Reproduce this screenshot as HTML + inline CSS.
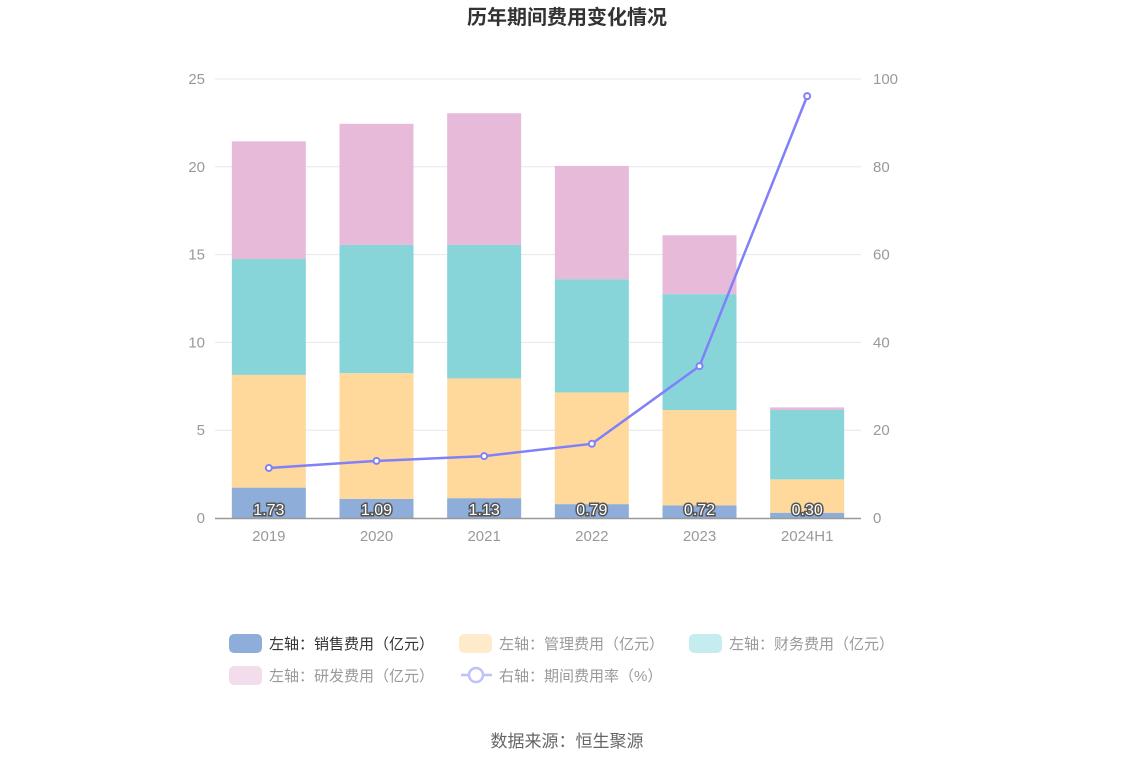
<!DOCTYPE html>
<html><head><meta charset="utf-8"><style>
body{margin:0;background:#fff;font-family:"Liberation Sans","Noto Sans CJK SC",sans-serif;}
svg text{font-family:"Liberation Sans","Noto Sans CJK SC",sans-serif;}
</style></head><body>
<svg id="c" width="1134" height="766" xmlns="http://www.w3.org/2000/svg">
<text x="567" y="24" text-anchor="middle" font-size="20" font-weight="bold" fill="#333">历年期间费用变化情况</text>
<g id="grid"></g><g id="bars"></g><g id="line"></g><g id="axes"></g>
<g id="legend" font-size="15"></g>
<text x="567" y="747" text-anchor="middle" font-size="17" fill="#666">数据来源：恒生聚源</text>
</svg>
<script>
const categories=["2019","2020","2021","2022","2023","2024H1"];
const sales=[1.73,1.09,1.13,0.79,0.72,0.30];
const mgmt=[6.42,7.16,6.82,6.36,5.43,1.9];
const finance=[6.6,7.3,7.6,6.45,6.6,3.95];
const rnd=[6.7,6.9,7.5,6.45,3.35,0.15];
const rate=[11.4,13.0,14.1,16.9,34.6,96.1];
const leftTicks=[0,5,10,15,20,25];
const rightTicks=[0,20,40,60,80,100];
const NS="http://www.w3.org/2000/svg";
const X0=215,X1=861,Y0=518,Y1=79;
const yL=v=>Y0-(v/25)*(Y0-Y1);
const yR=v=>Y0-(v/100)*(Y0-Y1);
const step=(X1-X0)/categories.length;
const xC=i=>X0+step*(i+0.5);
function mk(tag,attrs,parent,txt){const e=document.createElementNS(NS,tag);for(const k in attrs)e.setAttribute(k,attrs[k]);if(txt!==undefined)e.textContent=txt;document.getElementById(parent).appendChild(e);return e;}
leftTicks.forEach((t,i)=>{
  const y=yL(t);
  if(t>0){const g=mk('line',{x1:X0,x2:X1,y1:y,y2:y,stroke:'#e6e6f0','stroke-width':1},'grid');
  
  }
  const l=mk('text',{x:205,y:y+5,'text-anchor':'end','font-size':15,fill:'#999'},'axes',t);
  
  
  const r=mk('text',{x:873,y:yR(rightTicks[i])+5,'font-size':15,fill:'#999'},'axes',rightTicks[i]);
  
  
});
const ax=mk('line',{x1:X0,x2:X1,y1:Y0+0.5,y2:Y0+0.5,stroke:'#999','stroke-width':1.5},'axes');


const series=[[sales,'#8eadd9','sales'],[mgmt,'#ffd99c','mgmt'],[finance,'#87d5d9','finance'],[rnd,'#e7bad9','rnd']];
const bw=74;
categories.forEach((c,i)=>{
  let base=0;
  series.forEach(([arr,col,nm])=>{
    const top=base+arr[i];
    const r=mk('rect',{x:xC(i)-bw/2,y:yL(top),width:bw,height:yL(base)-yL(top),fill:col},'bars');
    
    
    base=top;
  });
  const lb=mk('text',{x:xC(i),y:yL(sales[i])+Math.min(0,0)+ (yL(0)-yL(sales[i]))/2+6 ,'text-anchor':'middle','font-size':16,fill:'#fff',stroke:'#555','stroke-width':3,'paint-order':'stroke'},'bars',sales[i].toFixed(2));
  lb.setAttribute('y',Y0-9+6);
  
  
  const t=mk('text',{x:xC(i),y:541,'text-anchor':'middle','font-size':15,fill:'#999'},'axes',c);
  
  
});
const pts=rate.map((v,i)=>xC(i)+','+yR(v)).join(' ');
const pl=mk('polyline',{points:pts,fill:'none',stroke:'#8080f8','stroke-width':2.5},'line');


rate.forEach((v,i)=>{
  const p=mk('circle',{cx:xC(i),cy:yR(v),r:3,fill:'#fff',stroke:'#8080f8','stroke-width':2},'line');
  
  
});
const leg=[[229,643,'#8eadd9','左轴：销售费用（亿元）','#333'],[459,643,'#ffebcc','左轴：管理费用（亿元）','#999'],[689,643,'#c5ecee','左轴：财务费用（亿元）','#999'],[229,675,'#f3dcec','左轴：研发费用（亿元）','#999']];
leg.forEach(([x,y,col,txt,tc])=>{
  const r=mk('rect',{x:x,y:y-9,width:33,height:19,rx:5,fill:col},'legend');
  
  
  const t=mk('text',{x:x+40,y:y+6,fill:tc},'legend',txt);
  
  
});
const ll=mk('line',{x1:461,x2:492,y1:675,y2:675,stroke:'#c0c0fa','stroke-width':2.5},'legend');


const lc=mk('circle',{cx:476,cy:675,r:7,fill:'#fff',stroke:'#c0c0fa','stroke-width':2.5},'legend');


const lt=mk('text',{x:499,y:681,fill:'#999'},'legend','右轴：期间费用率（%）');


</script>
</body></html>
